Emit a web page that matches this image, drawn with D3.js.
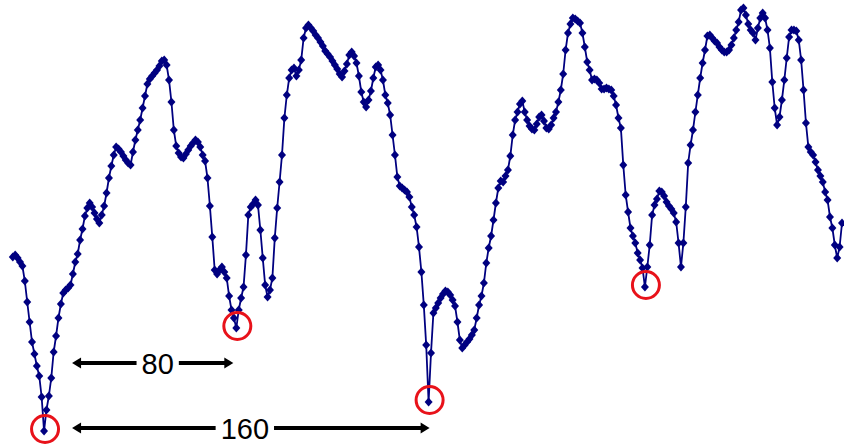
<!DOCTYPE html>
<html>
<head>
<meta charset="utf-8">
<script src="https://cdn.jsdelivr.net/npm/d3@7"></script>
<style>
    body { margin: 0; background: #ffffff; }
    svg { display: block; }
</style>
</head>
<body>
<svg width="844" height="445"></svg>
<script>
// price, one value per bar
const prices = [
    188, 190, 187, 183, 179, 164, 143, 123, 103, 91, 79, 69, 48, 14,
    35, 49, 67, 93, 109, 127, 141, 152, 155, 157,
    160, 171, 183, 191, 205, 216, 229, 237, 242, 238,
    232, 226, 222, 230, 239, 252, 267, 279, 290, 298,
    296, 293, 289, 285, 282, 280, 293, 305, 315, 325,
    337, 349, 361, 366, 369, 372, 375, 379, 384, 385,
    380, 365, 343, 315, 299, 292, 288, 287, 291, 295,
    299, 302, 305, 303, 298, 290, 284, 267, 239, 208,
    175, 171, 175, 178, 173, 167, 149, 135, 127, 117,
    135, 147, 158, 190, 230, 238, 241, 245, 240, 215,
    187, 160, 148, 155, 167, 207, 237, 263, 290, 327,
    350, 367, 375, 377, 369, 375, 385, 407, 417, 420,
    417, 414, 410, 407, 403, 399, 394, 391, 388, 384,
    380, 376, 371, 368, 374, 381, 390, 393, 389, 382,
    369, 353, 343, 338, 345, 354, 367, 378, 380, 375,
    365, 350, 342, 330, 310, 290, 268, 259, 257, 255,
    253, 248, 238, 230, 218, 198, 173, 140, 100, 43,
    92, 132, 137, 142, 147, 151, 154, 153, 150, 145,
    139, 123, 105, 97, 100, 103, 106, 110, 115, 127,
    140, 149, 162, 182, 197, 209, 225, 242, 257, 264,
    263, 269, 275, 289, 310, 325, 333, 341, 344, 333,
    325, 319, 316, 315, 321, 328, 330, 324, 317, 316,
    320, 327, 333, 343, 355, 371, 395, 412, 421, 427,
    426, 424, 422, 412, 398, 383, 375, 365, 366, 365,
    362, 356, 356, 357, 356, 355, 349, 340, 327, 317,
    280, 250, 233, 217, 209, 202, 192, 185, 177, 158,
    178, 200, 230, 240, 246, 254, 253, 249, 243, 239,
    236, 232, 223, 202, 178, 202, 238, 282, 300, 315,
    333, 350, 367, 382, 395, 409, 410, 407, 404, 402,
    398, 395, 393, 393, 395, 400, 407, 415, 423, 435,
    437, 430, 421, 415, 412, 405, 417, 427, 432, 427,
    415, 397, 363, 337, 320, 328, 345, 365, 387, 408,
    415, 415, 414, 405, 385, 355, 322, 298, 293, 290,
    283, 275, 269, 263, 253, 245, 228, 217, 200, 187,
    198, 222
];

// bars where the cycle lows sit
const lowBars = [13, 93, 173, 263];

// distance labels, measured from the first low
const spans = [
    {"to": 1, "label": "80"},
    {"to": 2, "label": "160"}
];

const navy = "#000080";
const red = "#e8121a";

function drawChart() {
    let svg = d3.select("svg");
    let height = +svg.attr("height");

    let x = d3.scaleLinear()
        .domain([0, prices.length - 1])
        .range([12.8, 842]);

    let y = d3.scaleLinear()
        .domain([0, 445])
        .range([height, 0]);

    //price line
    let line = d3.line()
        .x(function (d, i) { return x(i); })
        .y(function (d) { return y(d); });

    svg.append("path")
        .datum(prices)
        .attr("fill", "none")
        .attr("stroke", navy)
        .attr("stroke-width", 1.8)
        .attr("d", line);

    //diamond markers
    svg.append("g")
        .selectAll("path")
        .data(prices)
        .enter().append("path")
        .attr("d", "M0,-4.6L4,0L0,4.6L-4,0Z")
        .attr("fill", navy)
        .attr("transform", function (d, i) {
            return "translate(" + x(i) + "," + y(d) + ")";
        });

    //red rings round the lows
    svg.append("g")
        .selectAll("circle")
        .data(lowBars)
        .enter().append("circle")
        .attr("cx", function (d) { return x(d) + 1; })
        .attr("cy", function (d) { return y(prices[d]) - 2; })
        .attr("r", 13.5)
        .attr("fill", "none")
        .attr("stroke", red)
        .attr("stroke-width", 3);

    //arrows with the bar counts
    let rows = [363, 428];
    spans.forEach(function (s, k) {
        let x0 = x(lowBars[0]) + 28;
        let x1 = x(lowBars[s.to]) + (k === 0 ? -3 : 1);
        let yy = rows[k];
        let g = svg.append("g");

        g.append("line")
            .attr("x1", x0 + 6).attr("x2", x1 - 6)
            .attr("y1", yy).attr("y2", yy)
            .attr("stroke", "#000")
            .attr("stroke-width", 4);

        g.append("path")
            .attr("d", "M" + x0 + "," + yy + "l9,-5.5v11Z")
            .attr("fill", "#000");
        g.append("path")
            .attr("d", "M" + x1 + "," + yy + "l-9,-5.5v11Z")
            .attr("fill", "#000");

        let mid = (x0 + x1) / 2 + (k === 0 ? 5 : -6);
        let txt = g.append("text")
            .attr("x", mid)
            .attr("y", yy + 10.5)
            .attr("text-anchor", "middle")
            .attr("font-family", "Liberation Sans, Arial, sans-serif")
            .attr("font-size", 29)
            .attr("fill", "#000")
            .text(s.label);

        let bb = txt.node().getBBox();
        g.insert("rect", "text")
            .attr("x", bb.x - 5)
            .attr("y", yy - 4)
            .attr("width", bb.width + 10)
            .attr("height", 8)
            .attr("fill", "#fff");
    });
}

drawChart();
</script>
</body>
</html>
